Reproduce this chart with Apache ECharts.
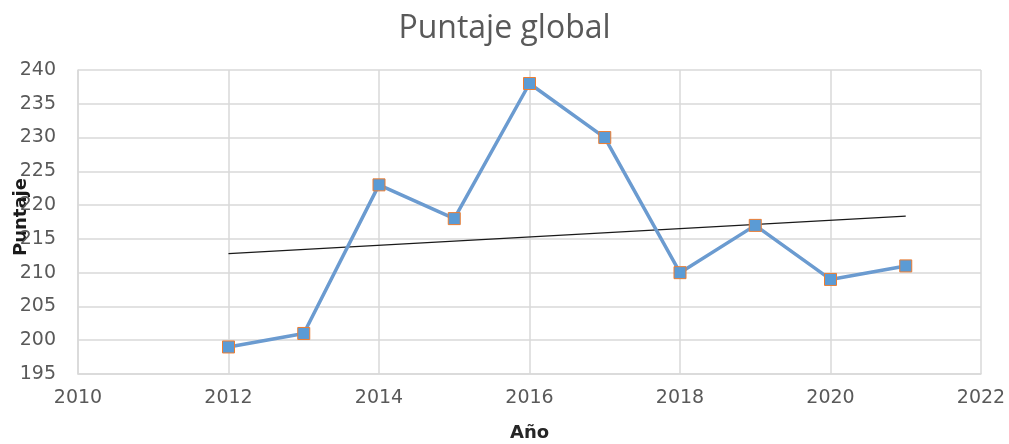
<!DOCTYPE html>
<html>
<head>
<meta charset="utf-8">
<title>Puntaje global</title>
<script src="https://cdn.jsdelivr.net/npm/echarts@6/dist/echarts.min.js"></script>
<style>
  html, body { margin: 0; padding: 0; background: #fff; }
  #chart { width: 1009px; height: 444px; }
</style>
</head>
<body>
<div id="chart"></div>
<script>
// datos
const years = [2012, 2013, 2014, 2015, 2016, 2017, 2018, 2019, 2020, 2021];
const puntaje = [199, 201, 223, 218, 238, 230, 210, 217, 209, 211];

// linea de tendencia (minimos cuadrados, como la de Excel)
function linearTrend(xs, ys) {
  const n = xs.length;
  const mx = xs.reduce((a, b) => a + b, 0) / n;
  const my = ys.reduce((a, b) => a + b, 0) / n;
  let sxy = 0, sxx = 0;
  xs.forEach((x, i) => {
    sxy += (x - mx) * (ys[i] - my);
    sxx += (x - mx) * (x - mx);
  });
  const m = sxy / sxx;
  const b = my - m * mx;
  return [[xs[0], m * xs[0] + b], [xs[n - 1], m * xs[n - 1] + b]];
}

const chart = echarts.init(document.getElementById('chart'));
const labelColor = '#595959';
const gridColor = '#d9d9d9';

chart.setOption({
  animation: false,
  title: {
    text: 'Puntaje global',
    left: 'center',
    top: 8,
    textStyle: {
      fontFamily: 'Open Sans',
      fontSize: 32,
      fontWeight: 'normal',
      color: labelColor,
    },
  },
  grid: {
    left: 78,
    right: 28,
    top: 70,
    bottom: 70,
    outerBoundsMode: 'none',
    containLabel: false,
  },
  xAxis: {
    type: 'value',
    min: 2010,
    max: 2022,
    interval: 2,
    name: 'Año',
    nameLocation: 'middle',
    nameGap: 50,
    nameMoveOverlap: false,
    nameTextStyle: {
      fontFamily: 'DejaVu Sans',
      fontSize: 18,
      fontWeight: 'bold',
      color: '#262626',
    },
    axisLine: { show: true, lineStyle: { color: gridColor, width: 1.5 } },
    axisTick: { show: false },
    axisLabel: {
      margin: 15,
      fontFamily: 'DejaVu Sans',
      fontSize: 19,
      color: labelColor,
      formatter: v => String(v),
    },
    splitLine: { show: true, lineStyle: { color: gridColor, width: 1.5 } },
  },
  yAxis: {
    type: 'value',
    min: 195,
    max: 240,
    interval: 5,
    name: 'Puntaje',
    nameLocation: 'middle',
    nameGap: 48,
    nameMoveOverlap: false,
    nameTextStyle: {
      fontFamily: 'DejaVu Sans',
      fontSize: 18,
      fontWeight: 'bold',
      color: '#1a1a1a',
      padding: [0, 0, 0, 10],
    },
    axisLine: { show: true, lineStyle: { color: gridColor, width: 1.5 } },
    axisTick: { show: false },
    axisLabel: {
      margin: 22,
      fontFamily: 'DejaVu Sans',
      fontSize: 19,
      color: labelColor,
    },
    splitLine: { show: true, lineStyle: { color: gridColor, width: 1.5 } },
  },
  series: [
    {
      name: 'Puntaje',
      type: 'line',
      data: years.map((y, i) => [y, puntaje[i]]),
      symbol: 'rect',
      symbolSize: 12,
      lineStyle: { color: '#6b9bd0', width: 3.5 },
      itemStyle: { color: '#5b9bd5', borderColor: '#ed7d31', borderWidth: 1 },
      z: 3,
    },
    {
      name: 'Tendencia',
      type: 'line',
      data: linearTrend(years, puntaje),
      symbol: 'none',
      lineStyle: { color: '#1a1a1a', width: 1.2 },
      z: 2,
    },
  ],
});
</script>
</body>
</html>
